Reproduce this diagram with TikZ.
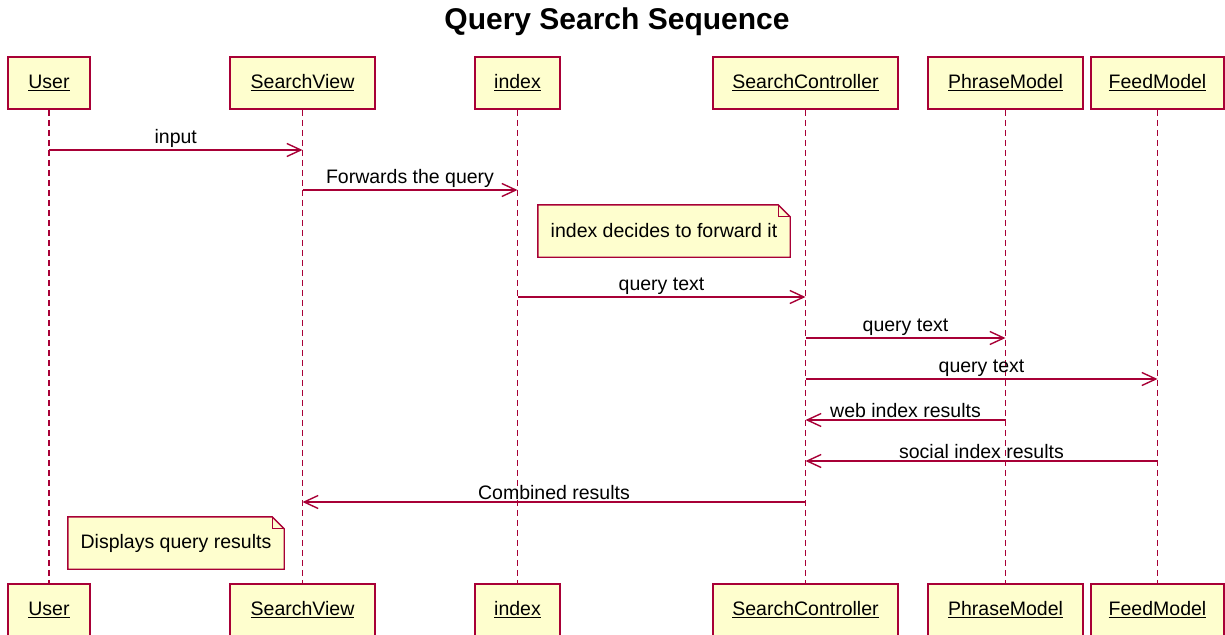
\documentclass[tikz,border=0pt]{standalone}
\usepackage{fontspec}
\setmainfont{Liberation Sans}
\usetikzlibrary{arrows.meta,calc,backgrounds}
\definecolor{umlred}{HTML}{A80036}
\definecolor{umlfill}{HTML}{FEFECE}
\tikzset{
  part/.style={draw=umlred, fill=umlfill, line width=1.5pt, minimum height=52pt, inner sep=0pt, font=\fontsize{19.5}{23}\selectfont},
  life/.style={draw=umlred, line width=1.5pt, dash pattern=on 6pt off 4pt},
  msg/.style={draw=umlred, line width=1.4pt, -{Straight Barb[length=14pt,width=13pt,line width=1.4pt]}},
  lbl/.style={above, inner sep=2pt, font=\fontsize{19.5}{23}\selectfont, text=black},
  notebox/.style={draw=umlred, fill=umlfill, line width=1.4pt, line join=miter},
  notetext/.style={font=\fontsize{19.5}{23}\selectfont, inner sep=0pt, minimum height=52pt},
}
\begin{document}
\begin{tikzpicture}[x=1pt,y=-1pt]
\useasboundingbox (0,0) rectangle (1225,634);
\node[font=\fontsize{30}{36}\selectfont\bfseries] (title) at (617,22) {Query Search Sequence};
% participants top
\node[part, minimum width=82pt]  (uT)  at (49,83)     {\underline{User}};
\node[part, minimum width=145pt] (svT) at (302.5,83)  {\underline{SearchView}};
\node[part, minimum width=85pt]  (ixT) at (517.5,83)  {\underline{index}};
\node[part, minimum width=185pt] (scT) at (805.5,83)  {\underline{SearchController}};
\node[part, minimum width=155pt] (pmT) at (1005.5,83) {\underline{PhraseModel}};
\node[part, minimum width=133pt] (fmT) at (1157.5,83) {\underline{FeedModel}};
% participants bottom
\node[part, minimum width=82pt]  (uB)  at (49,610)     {\underline{User}};
\node[part, minimum width=145pt] (svB) at (302.5,610)  {\underline{SearchView}};
\node[part, minimum width=85pt]  (ixB) at (517.5,610)  {\underline{index}};
\node[part, minimum width=185pt] (scB) at (805.5,610)  {\underline{SearchController}};
\node[part, minimum width=155pt] (pmB) at (1005.5,610) {\underline{PhraseModel}};
\node[part, minimum width=133pt] (fmB) at (1157.5,610) {\underline{FeedModel}};
% lifelines
\begin{scope}[on background layer]
\draw[life] (uT.south) -- (uB.north);
\draw[life] (svT.south) -- (svB.north);
\draw[life] (ixT.south) -- (ixB.north);
\draw[life] (scT.south) -- (scB.north);
\draw[life] (pmT.south) -- (pmB.north);
\draw[life] (fmT.south) -- (fmB.north);
\end{scope}
% message levels
\coordinate (y1) at (0,150);
\coordinate (y2) at (0,190);
\coordinate (y4) at (0,297);
\coordinate (y5) at (0,338);
\coordinate (y6) at (0,379);
\coordinate (y7) at (0,420);
\coordinate (y8) at (0,461);
\coordinate (y9) at (0,502);
\draw[msg] (uT |- y1) -- (svT |- y1) node[lbl, midway] {input};
\draw[msg] (svT |- y2) -- (ixT |- y2) node[lbl, midway] {Forwards the query};
\draw[msg] (ixT |- y4) -- (scT |- y4) node[lbl, midway] {query text};
\draw[msg] (scT |- y5) -- (pmT |- y5) node[lbl, midway] {query text};
\draw[msg] (scT |- y6) -- (fmT |- y6) node[lbl, midway] {query text};
\draw[msg] (pmT |- y7) -- (scT |- y7) node[lbl, midway] {web index results};
\draw[msg] (fmT |- y8) -- (scT |- y8) node[lbl, midway] {social index results};
\draw[msg] (scT |- y9) -- (svT |- y9) node[lbl, midway] {Combined results};
% notes
\node[notetext, minimum width=252pt] (n1) at (664,231) {index decides to forward it};
\node[notetext, minimum width=216pt] (n2) at (176,543) {Displays query results};
\begin{scope}[on background layer]
\foreach \n in {n1,n2}{
  \draw[notebox] (\n.north west) -- ($(\n.north east)+(-12,0)$) -- ($(\n.north east)+(0,12)$) -- (\n.south east) -- (\n.south west) -- cycle;
  \draw[draw=umlred, line width=1.2pt] ($(\n.north east)+(-12,0)$) -- ($(\n.north east)+(-12,12)$) -- ($(\n.north east)+(0,12)$);
}
\end{scope}
\end{tikzpicture}
\end{document}
